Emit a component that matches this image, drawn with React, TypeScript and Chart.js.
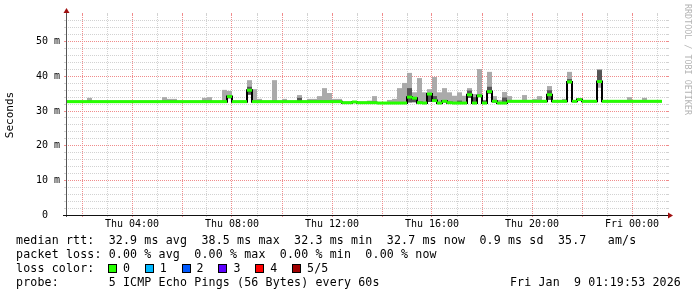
import React, { useEffect, useRef } from 'react';
import { Chart, registerables } from 'chart.js';

Chart.register(...registerables);

// ---- time axis (hours since Thu 00:00) ----
const START_HOUR = 1.4;
const END_HOUR = 25.4;
const BIN_HOURS = 0.2;
const Y_MAX = 57.7;

// median RTT per 12-minute bin (ms)
const medianMs = [
  32.7, 32.7, 32.7, 32.7, 32.7, 32.7, 32.7, 32.7, 32.7, 32.7,
  32.7, 32.7, 32.7, 32.7, 32.7, 32.7, 32.7, 32.7, 32.7, 32.7,
  32.7, 32.7, 32.7, 32.7, 32.7, 32.7, 32.7, 32.7, 32.7, 32.7,
  32.7, 32.7, 34.2, 32.7, 32.7, 32.7, 36.0, 32.7, 32.7, 32.7,
  32.7, 32.7, 32.7, 32.7, 32.7, 32.7, 32.7, 32.7, 32.7, 32.7,
  32.7, 32.7, 32.7, 32.7, 32.7, 32.4, 32.4, 32.6, 32.4, 32.4,
  32.4, 32.4, 32.3, 32.3, 32.3, 32.3, 32.3, 32.3, 34.0, 33.7,
  32.4, 32.3, 34.9, 33.0, 32.3, 32.8, 32.4, 32.3, 32.3, 32.3,
  34.7, 32.3, 34.4, 32.3, 35.6, 32.8, 32.3, 32.3, 32.8, 32.8,
  32.8, 32.8, 32.8, 32.8, 32.8, 32.8, 34.7, 32.8, 32.8, 32.8,
  38.4, 32.8, 33.3, 32.8, 32.8, 32.8, 38.5, 32.8, 32.8, 32.8,
  32.8, 32.8, 32.8, 32.8, 32.8, 32.8, 32.8, 32.8, 32.8,
];

// light smoke (spread of the pings)
const smokeBins = [
  4, 19, 20, 21, 27, 28, 31, 32, 36, 37,
  38, 41, 43, 46, 48, 49, 50, 51, 52, 53,
  54, 60, 61, 64, 65, 66, 67, 68, 69, 70,
  71, 72, 73, 74, 75, 76, 77, 78, 79, 80,
  81, 82, 83, 84, 85, 86, 87, 88, 91, 93,
  94, 96, 99, 100, 106, 112, 115,
];
const smokeTop = [
  33.8, 34.0, 33.5, 33.5, 33.8, 34.0, 36.1, 35.8, 38.9, 36.3,
  33.5, 38.9, 33.5, 34.6, 33.5, 33.5, 34.3, 36.6, 35.2, 33.5,
  33.5, 33.0, 34.3, 33.2, 33.5, 36.6, 38.1, 41.0, 35.4, 39.5,
  35.4, 36.3, 39.8, 35.4, 36.6, 35.4, 34.4, 35.4, 34.4, 36.6,
  34.9, 42.1, 33.2, 41.3, 34.3, 33.2, 35.5, 34.3, 34.6, 33.5,
  34.3, 37.2, 33.5, 41.3, 42.1, 34.0, 33.8,
];
// null = smoke starts at the median
const smokeBottom = [
  null, null, null, null, null, null, null, 33.6, 34.7, null,
  null, null, null, null, null, null, null, null, null, null,
  null, null, null, null, null, null, null, 32.4, null, null,
  null, 32.6, null, null, null, null, null, null, null, 33.8,
  null, 34.0, null, 35.0, null, null, null, null, null, null,
  null, 33.2, null, 38.0, 36.7, null, null,
];

// dark smoke (pings close to the median)
const darkBins = [32, 36, 46, 68, 69, 72, 73, 78, 80, 81, 83, 84, 85, 87, 96, 100, 106];
const darkBottom = [33.7, 34.7, 32.7, 32.5, 32.5, 32.6, 32.6, 32.3, 33.8, 32.3, 32.3, 35.0, 32.5, 32.3, 33.2, 38.0, 38.9];
const darkTop = [34.6, 37.0, 33.8, 36.6, 33.9, 35.1, 34.3, 33.0, 35.9, 34.0, 33.0, 37.0, 33.2, 33.9, 36.0, 39.2, 41.8];

// axes
const hourGridTicks = [2, 3, 4, 5, 6, 7, 8, 9, 10, 11, 12, 13, 14, 15, 16, 17, 18, 19, 20, 21, 22, 23, 24, 25];
const xTickHours = [4, 8, 12, 16, 20, 24];
const xTickLabels = ['Thu 04:00', 'Thu 08:00', 'Thu 12:00', 'Thu 16:00', 'Thu 20:00', 'Fri 00:00'];
const yGridTicks = [0, 2, 4, 6, 8, 10, 12, 14, 16, 18, 20, 22, 24, 26, 28, 30, 32, 34, 36, 38, 40, 42, 44, 46, 48, 50, 52, 54, 56];
const yTickValues = [0, 10, 20, 30, 40, 50];
const yTickLabels = ['0  ', '10 m', '20 m', '30 m', '40 m', '50 m'];

// legend
const statsRtt = 'median rtt:  32.9 ms avg  38.5 ms max  32.3 ms min  32.7 ms now  0.9 ms sd  35.7   am/s';
const statsLoss = 'packet loss: 0.00 % avg  0.00 % max  0.00 % min  0.00 % now';
const lossTitle = 'loss color:';
const lossLabels = ['0', '1', '2', '3', '4', '5/5'];
const lossColors = ['#26ff00', '#00b8ff', '#0059ff', '#5e00ff', '#ff0000', '#a00000'];
const probeText = 'probe:       5 ICMP Echo Pings (56 Bytes) every 60s';
const stampText = 'Fri Jan  9 01:19:53 2026';
const watermark = 'RRDTOOL / TOBI OETIKER';

const MONO = "'DejaVu Sans Mono', monospace";
const MGRID = '#f08c8c';
const GRID = '#d2d2d2';
const AXIS_Y = '#555555';
const AXIS_X = '#111111';
const ARROW = '#a01010';

const isMajorX = (v: number) => v % 2 === 0;
const isMajorY = (v: number) => v % 10 === 0;
const align = (p: number) => Math.round(p - 0.5) + 0.5;

// rrdtool style dotted grid, extended 2px beyond the plot with solid ticks
const gridPlugin = {
  id: 'rrdGrid',
  beforeDatasetsDraw(chart: any) {
    const { ctx, chartArea } = chart;
    const { left, right, top, bottom } = chartArea;
    const xs = chart.scales.x;
    const ys = chart.scales.y;
    ctx.save();
    ctx.lineWidth = 1;
    [false, true].forEach((pass) => {
      xs.ticks.forEach((t: any) => {
        if (isMajorX(t.value) !== pass) return;
        const px = align(xs.getPixelForValue(t.value));
        ctx.strokeStyle = pass ? MGRID : GRID;
        ctx.setLineDash([1, 1]);
        ctx.beginPath();
        ctx.moveTo(px, top);
        ctx.lineTo(px, bottom);
        ctx.stroke();
        ctx.setLineDash([]);
        ctx.beginPath();
        ctx.moveTo(px, top - 2);
        ctx.lineTo(px, top);
        ctx.moveTo(px, bottom);
        ctx.lineTo(px, bottom + 2);
        ctx.stroke();
      });
      ys.ticks.forEach((t: any) => {
        if (isMajorY(t.value) !== pass) return;
        const py = align(ys.getPixelForValue(t.value));
        ctx.strokeStyle = pass ? MGRID : GRID;
        ctx.setLineDash([1, 1]);
        ctx.beginPath();
        ctx.moveTo(left - 1, py);
        ctx.lineTo(right, py);
        ctx.stroke();
        ctx.setLineDash([]);
        ctx.beginPath();
        ctx.moveTo(left - 3, py);
        ctx.lineTo(left - 1, py);
        ctx.moveTo(right, py);
        ctx.lineTo(right + 2, py);
        ctx.stroke();
      });
    });
    ctx.restore();
  },
};

const axisPlugin = {
  id: 'rrdAxes',
  afterDraw(chart: any) {
    const { ctx, chartArea } = chart;
    const { left, right, top, bottom } = chartArea;
    ctx.save();
    ctx.setLineDash([]);
    ctx.lineWidth = 1;
    ctx.strokeStyle = AXIS_Y;
    ctx.beginPath();
    ctx.moveTo(left - 0.5, bottom + 2);
    ctx.lineTo(left - 0.5, top - 3);
    ctx.stroke();
    ctx.strokeStyle = AXIS_X;
    ctx.beginPath();
    ctx.moveTo(left - 4, bottom + 0.5);
    ctx.lineTo(right + 2, bottom + 0.5);
    ctx.stroke();
    ctx.fillStyle = ARROW;
    ctx.beginPath();
    ctx.moveTo(left - 0.5, top - 7);
    ctx.lineTo(left - 3.5, top - 2);
    ctx.lineTo(left + 2.5, top - 2);
    ctx.closePath();
    ctx.fill();
    ctx.beginPath();
    ctx.moveTo(right + 6, bottom + 0.5);
    ctx.lineTo(right + 1, bottom - 2.5);
    ctx.lineTo(right + 1, bottom + 3.5);
    ctx.closePath();
    ctx.fill();
    ctx.restore();
  },
};

export default function App() {
  const ref = useRef<HTMLCanvasElement>(null);

  useEffect(() => {
    const canvas = ref.current;
    if (!canvas) return;
    const center = (i: number) => START_HOUR + BIN_HOURS * (i + 0.5);
    const binStart = (i: number) => START_HOUR + BIN_HOURS * i;
    const greenHalf = 0.43;

    const lightData = smokeBins.map((b, k) => ({
      x: center(b),
      y: [smokeBottom[k] ?? medianMs[b], smokeTop[k]],
    }));
    const darkData = darkBins.map((b, k) => ({ x: center(b), y: [darkBottom[k], darkTop[k]] }));
    const greenData = medianMs.map((m, i) => ({ x: center(i), y: [m - greenHalf, m + greenHalf] }));
    const stepData = medianMs.map((m, i) => ({ x: binStart(i), y: m }));
    stepData.push({ x: binStart(medianMs.length), y: medianMs[medianMs.length - 1] });

    const barCommon = {
      type: 'bar' as const,
      borderWidth: 0,
      grouped: false,
      barPercentage: 1,
      categoryPercentage: 1,
      inflateAmount: 0,
    };

    const chart = new Chart(canvas, {
      type: 'line',
      data: {
        datasets: [
          { ...barCommon, data: greenData as any, backgroundColor: '#26ff00', order: 0 },
          {
            type: 'line',
            data: stepData as any,
            borderColor: '#000000',
            borderWidth: 2,
            pointRadius: 0,
            stepped: true,
            fill: false,
            order: 1,
          },
          { ...barCommon, data: darkData as any, backgroundColor: '#555555', order: 2 },
          { ...barCommon, data: lightData as any, backgroundColor: '#aaaaaa', order: 3 },
        ] as any,
      },
      options: {
        responsive: false,
        animation: false,
        devicePixelRatio: 1,
        events: [],
        layout: { padding: { left: 0, right: 30, top: 15, bottom: 0 } },
        plugins: {
          legend: { display: false },
          tooltip: { enabled: false },
        },
        scales: {
          x: {
            type: 'linear',
            min: START_HOUR,
            max: END_HOUR,
            offset: false,
            afterBuildTicks: (s: any) => {
              s.ticks = hourGridTicks.map((v) => ({ value: v }));
            },
            afterFit: (s: any) => {
              s.height = 82;
            },
            grid: { display: false, drawTicks: false, offset: false },
            border: { display: false },
            ticks: {
              autoSkip: false,
              maxRotation: 0,
              minRotation: 0,
              padding: 3,
              color: '#000000',
              font: { family: MONO, size: 10 },
              callback: (v: any) => {
                const k = xTickHours.indexOf(Number(v));
                return k >= 0 ? xTickLabels[k] : '';
              },
            },
          },
          y: {
            type: 'linear',
            min: 0,
            max: Y_MAX,
            afterBuildTicks: (s: any) => {
              s.ticks = yGridTicks.map((v) => ({ value: v }));
            },
            afterFit: (s: any) => {
              s.width = 67;
            },
            grid: { display: false, drawTicks: false },
            border: { display: false },
            ticks: {
              autoSkip: false,
              padding: 7,
              color: '#000000',
              font: { family: MONO, size: 10 },
              callback: (v: any) => {
                const k = yTickValues.indexOf(Number(v));
                return k >= 0 ? yTickLabels[k] : '';
              },
            },
            title: {
              display: true,
              text: 'Seconds',
              color: '#000000',
              font: { family: MONO, size: 11 },
              padding: { top: 4, bottom: 0 },
            },
          },
        },
      } as any,
      plugins: [gridPlugin, axisPlugin],
    });
    return () => chart.destroy();
  }, []);

  const rowStyle: React.CSSProperties = {
    position: 'absolute',
    left: 16,
    fontFamily: MONO,
    fontSize: '11.6px',
    letterSpacing: '0.15px',
    lineHeight: '14px',
    whiteSpace: 'pre',
    color: '#000',
  };

  return (
    <div
      style={{
        position: 'absolute',
        left: 0,
        top: 0,
        width: 697,
        height: 297,
        background: '#ffffff',
        overflow: 'hidden',
      }}
    >
      <canvas ref={ref} width={697} height={297} style={{ display: 'block', width: 697, height: 297 }} />
      <div style={{ ...rowStyle, top: 233 }}>{statsRtt}</div>
      <div style={{ ...rowStyle, top: 247 }}>{statsLoss}</div>
      <div style={{ ...rowStyle, top: 261 }}>{lossTitle}</div>
      {lossLabels.map((lab, i) => (
        <React.Fragment key={lab}>
          <div
            style={{
              position: 'absolute',
              left: 108 + 36.8 * i,
              top: 264,
              width: 7,
              height: 7,
              border: '1px solid #000',
              background: lossColors[i],
            }}
          />
          <div style={{ ...rowStyle, left: 123 + 36.8 * i, top: 261 }}>{lab}</div>
        </React.Fragment>
      ))}
      <div style={{ ...rowStyle, top: 275 }}>{probeText}</div>
      <div style={{ ...rowStyle, left: undefined, right: 16, top: 275 }}>{stampText}</div>
      <div
        style={{
          position: 'absolute',
          left: 683,
          top: 4,
          writingMode: 'vertical-rl',
          fontFamily: MONO,
          fontSize: '8.4px',
          lineHeight: '10px',
          whiteSpace: 'pre',
          color: '#b4b4b4',
        }}
      >
        {watermark}
      </div>
    </div>
  );
}
